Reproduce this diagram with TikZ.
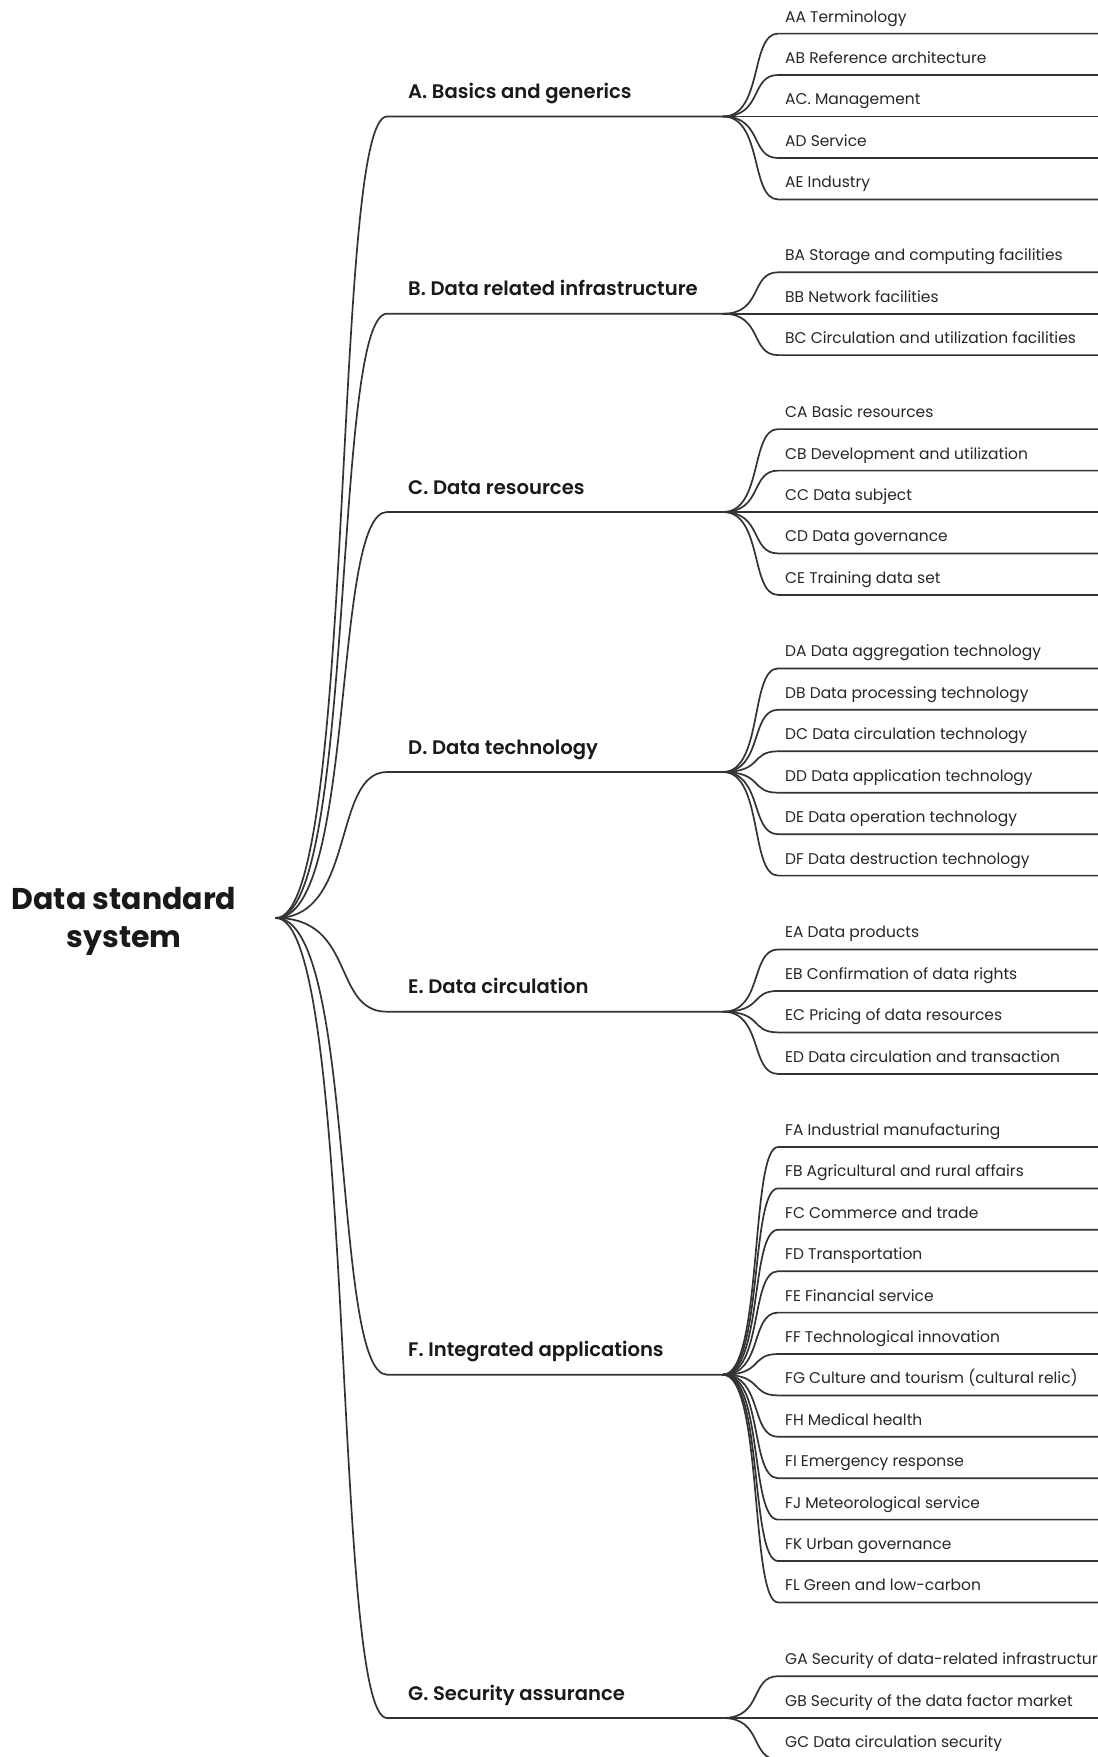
\documentclass[tikz,border=0pt]{standalone}
\usepackage{fontspec}
\setmainfont{Poppins}
\newfontfamily\semib{Poppins SemiBold}
\begin{document}
\begin{tikzpicture}[x=1pt,y=-1pt,
  conn/.style={draw=black!80, line width=1.7pt, line cap=round, line join=round},
  rootlab/.style={align=center, inner sep=0pt, text=black!90, font=\fontsize{30}{38}\selectfont\bfseries},
  lone/.style={anchor=base west, inner sep=0pt, text=black!90, font=\fontsize{19.6}{22}\selectfont\semib},
  ltwo/.style={anchor=base west, inner sep=0pt, text=black!85, font=\fontsize{15.5}{17}\selectfont}]
\useasboundingbox (0,0) rectangle (1098,1757);
\node[rootlab] (rootlab) at (124,921) {Data standard\\system};
\coordinate (root) at (276,918);
\foreach \id/\y/\lab in {
  A/116.5/{A. Basics and generics},
  B/313.7/{B. Data related infrastructure},
  C/512/{C. Data resources},
  D/772/{D. Data technology},
  E/1011.7/{E. Data circulation},
  F/1374.7/{F. Integrated applications},
  G/1718/{G. Security assurance}}{
  \coordinate (\id s) at (387,\y);
  \coordinate (\id h) at (723,\y);
  \node[lone] (\id lab) at (408,\y-18) {\lab};
  \draw[conn] (root) .. controls +(80,0) and +(-55,0) .. (\id s) -- (\id h);
}
\foreach \pid/\cid/\y/\lab in {
  A/AA/33.6/{AA Terminology},
  A/AB/75.0/{AB Reference architecture},
  A/AC/116.5/{AC. Management},
  A/AD/158.0/{AD Service},
  A/AE/199.4/{AE Industry},
  B/BA/272.3/{BA Storage and computing facilities},
  B/BB/313.7/{BB Network facilities},
  B/BC/355.1/{BC Circulation and utilization facilities},
  C/CA/429.1/{CA Basic resources},
  C/CB/470.6/{CB Development and utilization},
  C/CC/512/{CC Data subject},
  C/CD/553.4/{CD Data governance},
  C/CE/594.9/{CE Training data set},
  D/DA/668.4/{DA Data aggregation technology},
  D/DB/709.8/{DB Data processing technology},
  D/DC/751.3/{DC Data circulation technology},
  D/DD/792.7/{DD Data application technology},
  D/DE/834.2/{DE Data operation technology},
  D/DF/875.6/{DF Data destruction technology},
  E/EA/949.5/{EA Data products},
  E/EB/990.9/{EB Confirmation of data rights},
  E/EC/1032.4/{EC Pricing of data resources},
  E/ED/1073.9/{ED Data circulation and transaction},
  F/FA/1147.0/{FA Industrial manufacturing},
  F/FB/1188.4/{FB Agricultural and rural affairs},
  F/FC/1229.8/{FC Commerce and trade},
  F/FD/1271.2/{FD Transportation},
  F/FE/1312.6/{FE Financial service},
  F/FF/1354.0/{FF Technological innovation},
  F/FG/1395.4/{FG Culture and tourism (cultural relic)},
  F/FH/1436.8/{FH Medical health},
  F/FI/1478.2/{FI Emergency response},
  F/FJ/1519.6/{FJ Meteorological service},
  F/FK/1561.0/{FK Urban governance},
  F/FL/1602.4/{FL Green and low-carbon},
  G/GA/1676.2/{GA Security of data-related infrastructure},
  G/GB/1718/{GB Security of the data factor market},
  G/GC/1759.4/{GC Data circulation security}}{
  \coordinate (\cid s) at (778,\y);
  \coordinate (\cid e) at (1115,\y);
  \node[ltwo] (\cid lab) at (785,\y-11.6) {\lab};
  \draw[conn] (\pid h) .. controls +(40,0) and +(-28,0) .. (\cid s) -- (\cid e);
}
\end{tikzpicture}
\end{document}
